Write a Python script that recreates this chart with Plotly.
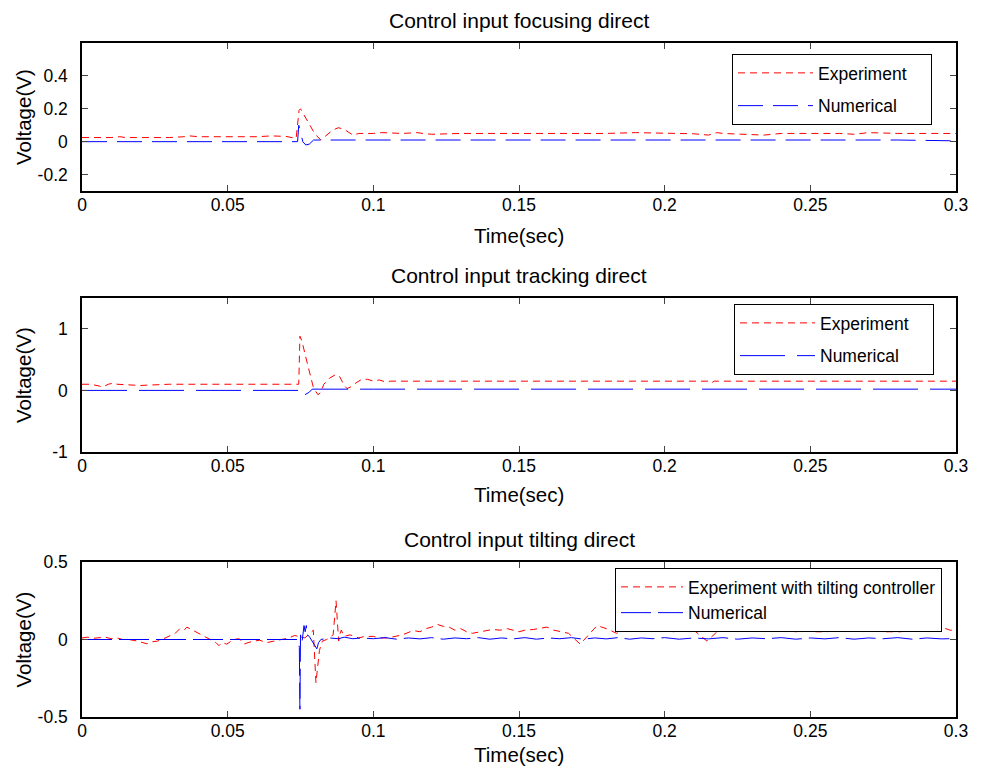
import plotly.graph_objects as go

# ---------------- Data ----------------
# Panel 1: focusing direct
t1_exp = [0, 0.005, 0.010, 0.013, 0.015, 0.020, 0.027, 0.030, 0.035, 0.037, 0.040, 0.050, 0.060, 0.065,
          0.070, 0.0735, 0.0745, 0.0750, 0.0760, 0.0780, 0.0800, 0.0820, 0.0840, 0.0860, 0.0880, 0.0900,
          0.0930, 0.0950, 0.100, 0.103, 0.110, 0.115, 0.117, 0.120, 0.130, 0.140, 0.150, 0.160, 0.170,
          0.180, 0.190, 0.200, 0.210, 0.215, 0.218, 0.220, 0.230, 0.234, 0.240, 0.250, 0.260, 0.265,
          0.270, 0.280, 0.290, 0.300]
v1_exp = [0.025, 0.025, 0.025, 0.030, 0.025, 0.025, 0.022, 0.025, 0.030, 0.035, 0.030, 0.030, 0.030, 0.035,
          0.032, 0.020, 0.190, 0.200, 0.170, 0.110, 0.045, 0.010, 0.040, 0.070, 0.085, 0.075,
          0.040, 0.050, 0.050, 0.055, 0.050, 0.055, 0.050, 0.045, 0.050, 0.050, 0.052, 0.048, 0.052,
          0.050, 0.055, 0.050, 0.048, 0.040, 0.055, 0.050, 0.045, 0.040, 0.050, 0.050, 0.050, 0.045,
          0.055, 0.050, 0.050, 0.050]
t1_num = [0, 0.0740, 0.0744, 0.0750, 0.0758, 0.0768, 0.0780, 0.0795, 0.0810, 0.100, 0.130, 0.150, 0.160,
          0.180, 0.200, 0.220, 0.240, 0.260, 0.280, 0.300]
v1_num = [0, 0, 0.100, 0.050, 0.000, -0.020, -0.015, 0.010, 0.010, 0.010, 0.010, 0.012, 0.008,
          0.012, 0.010, 0.012, 0.008, 0.012, 0.010, 0.005]

# Panel 2: tracking direct
t2_exp = [0, 0.003, 0.006, 0.007, 0.009, 0.011, 0.012, 0.020, 0.030, 0.050, 0.070, 0.0744, 0.0748,
          0.0755, 0.0766, 0.0780, 0.0793, 0.0800, 0.0810, 0.0820, 0.0830, 0.0850, 0.0872, 0.0885,
          0.0900, 0.0910, 0.0920, 0.0940, 0.0960, 0.0980, 0.1000, 0.1020, 0.1040, 0.1060, 0.120,
          0.150, 0.200, 0.2150, 0.2160, 0.2170, 0.250, 0.300]
v2_exp = [0.10, 0.10, 0.07, 0.05, 0.10, 0.12, 0.10, 0.08, 0.10, 0.10, 0.10, 0.10, 0.88,
          0.80, 0.58, 0.31, 0.07, 0.00, -0.07, -0.03, 0.10, 0.20, 0.26, 0.22,
          0.08, 0.03, 0.05, 0.12, 0.18, 0.18, 0.15, 0.17, 0.14, 0.15, 0.15,
          0.15, 0.15, 0.15, 0.12, 0.15, 0.15, 0.15]
t2_num = [0, 0.0744, 0.0750, 0.0765, 0.0780, 0.0790, 0.100, 0.150, 0.200, 0.250, 0.300]
v2_num = [0, 0, 0.04, -0.07, -0.03, 0.02, 0.02, 0.02, 0.02, 0.02, 0.02]

# Panel 3: tilting direct
t3_exp = [0, 0.002, 0.004, 0.006, 0.008, 0.010, 0.012, 0.014, 0.016, 0.019, 0.0223, 0.024, 0.026,
          0.028, 0.030, 0.032, 0.0336, 0.035, 0.036, 0.038, 0.0405, 0.042, 0.044, 0.046, 0.047,
          0.048, 0.0497, 0.052, 0.054, 0.0556, 0.057, 0.059, 0.061, 0.0634, 0.066, 0.0692, 0.071,
          0.073, 0.0765, 0.0794, 0.0803, 0.0815, 0.0825, 0.0840, 0.0862, 0.0872, 0.0881, 0.0886,
          0.0890, 0.0900, 0.0920, 0.0950, 0.0970, 0.100, 0.102, 0.105, 0.107, 0.110, 0.1137, 0.116,
          0.118, 0.120, 0.122, 0.124, 0.126, 0.128, 0.130, 0.132, 0.134, 0.137, 0.1410, 0.1435,
          0.146, 0.150, 0.152, 0.1550, 0.157, 0.1596, 0.162, 0.164, 0.167, 0.171, 0.174, 0.1768,
          0.180, 0.1835, 0.186, 0.188, 0.1916, 0.195, 0.198, 0.200, 0.203, 0.206, 0.210, 0.2145,
          0.218, 0.2225, 0.226, 0.230, 0.233, 0.237, 0.241, 0.245, 0.249, 0.252, 0.2557, 0.259,
          0.2637, 0.267, 0.272, 0.276, 0.281, 0.284, 0.287, 0.291, 0.2957, 0.298, 0.300]
v3_exp = [0.010, 0.015, 0.008, 0.012, 0.015, 0.005, 0.010, 0.000, 0.000, -0.010, -0.028, -0.015, -0.010,
          0.005, 0.020, 0.040, 0.070, 0.060, 0.080, 0.060, 0.037, 0.020, 0.000, -0.020, -0.040,
          -0.020, -0.030, 0.000, 0.005, -0.030, -0.020, -0.010, -0.005, -0.020, -0.010, 0.005, 0.010,
          0.026, 0.010, 0.060, -0.280, -0.070, -0.010, 0.000, 0.030, 0.250, -0.010, 0.040,
          0.060, 0.020, 0.030, 0.010, 0.020, 0.020, 0.010, 0.010, 0.020, 0.030, 0.058, 0.050,
          0.070, 0.080, 0.097, 0.085, 0.080, 0.060, 0.070, 0.050, 0.040, 0.050, 0.065, 0.060,
          0.070, 0.050, 0.060, 0.065, 0.070, 0.080, 0.060, 0.050, 0.040, -0.030, 0.030, 0.090,
          0.070, 0.040, 0.060, 0.050, 0.060, 0.070, 0.060, 0.070, 0.050, 0.060, 0.060, -0.010,
          0.050, 0.080, 0.060, 0.060, 0.070, 0.080, 0.060, 0.050, 0.060, 0.050, 0.050, 0.060,
          0.080, 0.060, 0.060, 0.050, 0.050, 0.060, 0.060, 0.050, 0.075, 0.060, 0.060]
t3_num = [0, 0.0740, 0.0746, 0.0748, 0.0750, 0.0755, 0.0762, 0.0766, 0.0770, 0.0773, 0.0780,
          0.0795, 0.0806, 0.0812, 0.0820, 0.0850, 0.0880, 0.0900, 0.0930, 0.0960, 0.1000,
          0.104, 0.108, 0.112, 0.116, 0.120, 0.124, 0.128, 0.132, 0.136, 0.140, 0.144,
          0.148, 0.152, 0.156, 0.160, 0.164, 0.168, 0.172, 0.176, 0.180, 0.184, 0.188,
          0.192, 0.196, 0.200, 0.205, 0.210, 0.215, 0.220, 0.225, 0.230, 0.235, 0.240,
          0.245, 0.250, 0.255, 0.260, 0.265, 0.270, 0.275, 0.280, 0.285, 0.290, 0.295, 0.300]
v3_num = [0, 0, -0.05, -0.45, 0.03, -0.02, 0.09, 0.05, 0.09, 0.03, 0.02,
          -0.03, -0.06, -0.02, 0.00, 0.01, 0.005, 0.015, 0.005, 0.010, 0.005,
          0.012, 0.002, 0.010, 0.004, 0.012, 0.002, 0.010, 0.005, 0.012, 0.002, 0.010,
          0.004, 0.012, 0.002, 0.010, 0.005, 0.012, 0.002, 0.010, 0.004, 0.012, 0.002,
          0.010, 0.005, 0.012, 0.002, 0.010, 0.004, 0.012, 0.002, 0.010, 0.005, 0.012,
          0.002, 0.010, 0.004, 0.012, 0.002, 0.010, 0.005, 0.012, 0.002, 0.010, 0.004, 0.006]

titles = ["Control input focusing direct", "Control input tracking direct", "Control input tilting direct"]
exp_names = ["Experiment", "Experiment", "Experiment with tilting controller"]
num_name = "Numerical"
x_ticks = [0, 0.05, 0.1, 0.15, 0.2, 0.25, 0.3]
x_ticktext = ["0", "0.05", "0.1", "0.15", "0.2", "0.25", "0.3"]
y_ticks = [[-0.2, 0, 0.2, 0.4], [-1, 0, 1], [-0.5, 0, 0.5]]
y_ticktext = [["-0.2", "0", "0.2", "0.4"], ["-1", "0", "1"], ["-0.5", "0", "0.5"]]
y_ranges = [[-0.3, 0.6], [-1, 1.5], [-0.5, 0.5]]

# ---------------- Layout geometry (pixels) ----------------
W, H = 983, 774
FONT = "Liberation Sans, Arial, Helvetica, sans-serif"
px_left, px_right = 82, 956
panels = [(43, 191), (298, 452), (562, 717)]
title_y = [20, 275, 539]
xlabel_y = [235, 494, 754]
legend_pos = [(732, 54), (734, 304), (615, 568)]
legend_gap = [7, 7, 0]
legend_itemw = [75, 75, 62]
legend_pad = ["\u00a0\u00a0\u00a0\u00a0", "\u00a0\u00a0\u00a0\u00a0", ""]
num_dash = ["25px,10px", "45px,12px", "30px,7px"]

RED = "#ff0000"
BLUE = "#0000ff"

fig = go.Figure()
series = [(t1_exp, v1_exp, t1_num, v1_num), (t2_exp, v2_exp, t2_num, v2_num), (t3_exp, v3_exp, t3_num, v3_num)]

for i, (te, ve, tn, vn) in enumerate(series):
    sfx = "" if i == 0 else str(i + 1)
    leg = "legend" if i == 0 else f"legend{i + 1}"
    grp_e = f"e{i}" if i < 2 else None
    grp_n = f"n{i}" if i < 2 else None
    fig.add_trace(go.Scatter(x=te, y=ve, mode="lines", name=exp_names[i] + legend_pad[i],
                             line=dict(color=RED, width=1, dash="7px,5px"),
                             xaxis="x" + sfx, yaxis="y" + sfx, legend=leg,
                             legendgroup=grp_e))
    fig.add_trace(go.Scatter(x=tn, y=vn, mode="lines", name=num_name + legend_pad[i],
                             line=dict(color=BLUE, width=1, dash=num_dash[i]),
                             xaxis="x" + sfx, yaxis="y" + sfx, legend=leg,
                             legendgroup=grp_n))

layout = dict(
    template="none",
    width=W, height=H, margin=dict(l=0, r=0, t=0, b=0, pad=0, autoexpand=False),
    paper_bgcolor="white", plot_bgcolor="white",
    font=dict(family=FONT, size=17.5, color="black"),
    annotations=[],
)
for i, (top, bot) in enumerate(panels):
    sfx = "" if i == 0 else str(i + 1)
    axis_common = dict(showline=True, linecolor="black", linewidth=1.5, mirror="ticks",
                       ticks="inside", ticklen=6, tickcolor="#444444", tickwidth=1,
                       showgrid=False, zeroline=False, automargin=False,
                       tickfont=dict(size=17.5, color="black"))
    layout["xaxis" + sfx] = dict(domain=[px_left / W, px_right / W], range=[0, 0.3],
                                 tickvals=x_ticks, ticktext=x_ticktext,
                                 ticklabelstandoff=-3,
                                 anchor="y" + sfx, **axis_common)
    layout["yaxis" + sfx] = dict(domain=[1 - bot / H, 1 - top / H], range=y_ranges[i],
                                 tickvals=y_ticks[i], ticktext=y_ticktext[i],
                                 ticklabelstandoff=9,
                                 anchor="x" + sfx, **axis_common)
    leg = "legend" if i == 0 else f"legend{i + 1}"
    lx, ly = legend_pos[i]
    leg_cfg = dict(x=lx / W, y=1 - ly / H, xanchor="left", yanchor="top",
                   bgcolor="white", bordercolor="black", borderwidth=1,
                   font=dict(size=17.5), itemwidth=legend_itemw[i])
    if i < 2:
        leg_cfg.update(traceorder="grouped", tracegroupgap=legend_gap[i])
    else:
        leg_cfg.update(traceorder="normal")
    layout[leg] = leg_cfg
    cx = (px_left + px_right) / 2 / W
    layout["annotations"].append(dict(text=titles[i], x=cx, y=1 - title_y[i] / H, xref="paper", yref="paper",
                                      showarrow=False, font=dict(size=21), xanchor="center", yanchor="middle"))
    layout["annotations"].append(dict(text="Time(sec)", x=cx, y=1 - xlabel_y[i] / H, xref="paper", yref="paper",
                                      showarrow=False, font=dict(size=20.5), xanchor="center", yanchor="middle"))
    layout["annotations"].append(dict(text="Voltage(V)", x=23 / W, y=1 - (top + bot) / 2 / H, xref="paper",
                                      yref="paper", showarrow=False, textangle=-90, font=dict(size=20.5),
                                      xanchor="center", yanchor="middle"))

fig.update_layout(**layout)
fig.write_html("out.html")
